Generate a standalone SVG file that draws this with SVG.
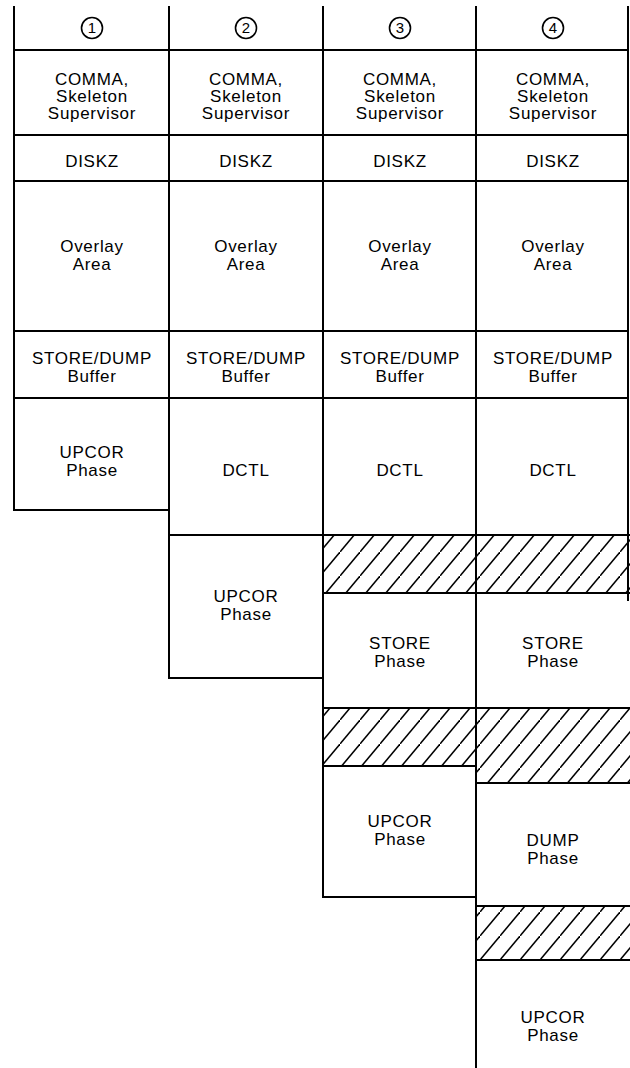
<svg xmlns="http://www.w3.org/2000/svg" width="630" height="1068" viewBox="0 0 630 1068">
<defs>
<pattern id="hatch" patternUnits="userSpaceOnUse" width="20" height="24">
<path d="M-1,25.2 L21,-1.2" stroke="#000" stroke-width="1.5" fill="none"/>
</pattern>
</defs>
<style>
.ln{stroke:#000;stroke-width:2;fill:none;stroke-linecap:square}
.t{font-family:"Liberation Sans",Arial,sans-serif;font-size:17px;letter-spacing:0.7px;text-anchor:middle;fill:#000}
.n{font-family:"Liberation Sans",Arial,sans-serif;font-size:15px;text-anchor:middle;fill:#000}
.c{fill:none;stroke:#000;stroke-width:1.6}
.h{fill:url(#hatch);stroke:none}
</style>
<rect width="630" height="1068" fill="#fff"/>
<g id="hatched">
<rect class="h" x="323" y="535" width="153" height="58"/>
<rect class="h" x="476" y="535" width="154" height="58"/>
<rect class="h" x="323" y="708" width="153" height="58"/>
<rect class="h" x="476" y="708" width="154" height="75"/>
<rect class="h" x="476" y="906" width="154" height="54"/>
</g>
<g id="grid" class="ln">
<line x1="14" y1="7" x2="14" y2="510"/>
<line x1="169" y1="7" x2="169" y2="678"/>
<line x1="323" y1="7" x2="323" y2="897"/>
<line x1="476" y1="7" x2="476" y2="1068"/>
<line x1="628" y1="7" x2="628" y2="600"/>
<line x1="14" y1="50" x2="628" y2="50"/>
<line x1="14" y1="135" x2="628" y2="135"/>
<line x1="14" y1="181" x2="628" y2="181"/>
<line x1="14" y1="331" x2="628" y2="331"/>
<line x1="14" y1="398" x2="628" y2="398"/>
<line x1="14" y1="510" x2="169" y2="510"/>
<line x1="169" y1="535" x2="630" y2="535"/>
<line x1="323" y1="593" x2="630" y2="593"/>
<line x1="169" y1="678" x2="323" y2="678"/>
<line x1="323" y1="708" x2="630" y2="708"/>
<line x1="323" y1="766" x2="476" y2="766"/>
<line x1="476" y1="783" x2="630" y2="783"/>
<line x1="323" y1="897" x2="476" y2="897"/>
<line x1="476" y1="906" x2="630" y2="906"/>
<line x1="476" y1="960" x2="630" y2="960"/>
</g>
<g id="col1">
<g id="h1"><circle class="c" cx="92" cy="28" r="10.5"/><text class="n" x="92" y="33">1</text></g>
<g id="comma1"><text class="t" x="92" y="85">COMMA,</text><text class="t" x="92" y="102">Skeleton</text><text class="t" x="92" y="119">Supervisor</text></g>
<g id="diskz1"><text class="t" x="92" y="167">DISKZ</text></g>
<g id="overlay1"><text class="t" x="92" y="252">Overlay</text><text class="t" x="92" y="270">Area</text></g>
<g id="buffer1"><text class="t" x="92" y="364">STORE/DUMP</text><text class="t" x="92" y="382">Buffer</text></g>
<g id="upcor1"><text class="t" x="92" y="458">UPCOR</text><text class="t" x="92" y="476">Phase</text></g>
</g>
<g id="col2">
<g id="h2"><circle class="c" cx="246" cy="28" r="10.5"/><text class="n" x="246" y="33">2</text></g>
<g id="comma2"><text class="t" x="246" y="85">COMMA,</text><text class="t" x="246" y="102">Skeleton</text><text class="t" x="246" y="119">Supervisor</text></g>
<g id="diskz2"><text class="t" x="246" y="167">DISKZ</text></g>
<g id="overlay2"><text class="t" x="246" y="252">Overlay</text><text class="t" x="246" y="270">Area</text></g>
<g id="buffer2"><text class="t" x="246" y="364">STORE/DUMP</text><text class="t" x="246" y="382">Buffer</text></g>
<g id="dctl2"><text class="t" x="246" y="476">DCTL</text></g>
<g id="upcor2"><text class="t" x="246" y="602">UPCOR</text><text class="t" x="246" y="620">Phase</text></g>
</g>
<g id="col3">
<g id="h3"><circle class="c" cx="400" cy="28" r="10.5"/><text class="n" x="400" y="33">3</text></g>
<g id="comma3"><text class="t" x="400" y="85">COMMA,</text><text class="t" x="400" y="102">Skeleton</text><text class="t" x="400" y="119">Supervisor</text></g>
<g id="diskz3"><text class="t" x="400" y="167">DISKZ</text></g>
<g id="overlay3"><text class="t" x="400" y="252">Overlay</text><text class="t" x="400" y="270">Area</text></g>
<g id="buffer3"><text class="t" x="400" y="364">STORE/DUMP</text><text class="t" x="400" y="382">Buffer</text></g>
<g id="dctl3"><text class="t" x="400" y="476">DCTL</text></g>
<g id="store3"><text class="t" x="400" y="649">STORE</text><text class="t" x="400" y="667">Phase</text></g>
<g id="upcor3"><text class="t" x="400" y="827">UPCOR</text><text class="t" x="400" y="845">Phase</text></g>
</g>
<g id="col4">
<g id="h4"><circle class="c" cx="553" cy="28" r="10.5"/><text class="n" x="553" y="33">4</text></g>
<g id="comma4"><text class="t" x="553" y="85">COMMA,</text><text class="t" x="553" y="102">Skeleton</text><text class="t" x="553" y="119">Supervisor</text></g>
<g id="diskz4"><text class="t" x="553" y="167">DISKZ</text></g>
<g id="overlay4"><text class="t" x="553" y="252">Overlay</text><text class="t" x="553" y="270">Area</text></g>
<g id="buffer4"><text class="t" x="553" y="364">STORE/DUMP</text><text class="t" x="553" y="382">Buffer</text></g>
<g id="dctl4"><text class="t" x="553" y="476">DCTL</text></g>
<g id="store4"><text class="t" x="553" y="649">STORE</text><text class="t" x="553" y="667">Phase</text></g>
<g id="dump4"><text class="t" x="553" y="846">DUMP</text><text class="t" x="553" y="864">Phase</text></g>
<g id="upcor4"><text class="t" x="553" y="1023">UPCOR</text><text class="t" x="553" y="1041">Phase</text></g>
</g>
<g id="connectors"></g>
</svg>
